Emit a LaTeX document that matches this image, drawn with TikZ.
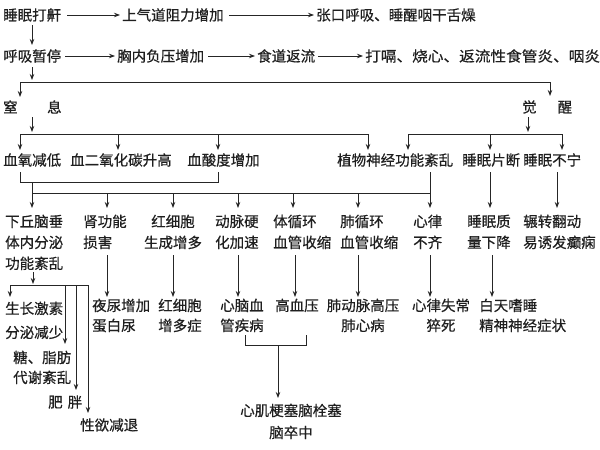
\documentclass[tikz,border=0pt]{standalone}
\usepackage{fontspec}
\newfontfamily\cjk[FakeBold=0.5]{Noto Sans CJK SC}
\usetikzlibrary{arrows.meta,calc}
\begin{document}
\begin{tikzpicture}[x=1pt,y=-1pt,
  t/.style={inner sep=0pt,font=\cjk\fontsize{14.5}{21}\selectfont,text=black!88},
  tw/.style={t,anchor=west},
  tl/.style={t,align=left,anchor=north west},
  tc/.style={t,align=center,anchor=north},
  ln/.style={line width=0.9pt,draw=black!85},
  ar/.style={ln,-{Stealth[length=6pt,width=4.5pt]}}]
\useasboundingbox (0,0) rectangle (600,450);
% ---------- row 1 / row 2
\node[tw] (n11) at (3,15) {睡眠打鼾};
\node[tw] (n12) at (122,15) {上气道阻力增加};
\node[tw] (n13) at (316,15) {张口呼吸、睡醒咽干舌燥};
\node[tw] (n21) at (3,56) {呼吸暂停};
\node[tw] (n22) at (117,56) {胸内负压增加};
\node[tw] (n23) at (257,56) {食道返流};
\node[tw] (n24) at (365,56) {\scalebox{1.08}[1]{打嗝、烧心、返流性食管炎、咽炎}};
\node[tw] (nz) at (3,107) {窒\hspace{29.5pt}息};
\node[tw] (nj) at (522,107) {觉\hspace{21pt}醒};
% ---------- row 3
\node[tw] (n31) at (3,160) {血氧减低};
\node[tw] (n32) at (70,160) {血二氧化碳升高};
\node[tw] (n33) at (187,160) {血酸度增加};
\node[tw] (n34) at (337,160) {植物神经功能紊乱};
\node[tw] (n35) at (462,160) {睡眠片断};
\node[tw] (n36) at (523,160) {睡眠不宁};
% ---------- row 4
\node[tl] (n41) at (5,214.5) {下丘脑垂\\体内分泌\\功能紊乱};
\node[tl] (n42) at (83,214.5) {肾功能\\损害};
\node[tc] (n43) at (173,214.5) {红细胞\\生成增多};
\node[tl] (n44) at (215,214.5) {动脉硬\\化加速};
\node[tl] (n45) at (273,214.5) {体循环\\血管收缩};
\node[tl] (n46) at (340,214.5) {肺循环\\血管收缩};
\node[tl] (n47) at (413,214.5) {心律\\不齐};
\node[tl] (n48) at (467,214.5) {睡眠质\\量下降};
\node[tl] (n49) at (523,214.5) {辗转翻动\\易诱发癫痫};
% ---------- row 5
\node[tl,font=\cjk\fontsize{14.5}{20}\selectfont] (n51) at (92,298.5) {夜尿增加\\蛋白尿};
\node[tc,font=\cjk\fontsize{14.5}{20}\selectfont] (n52) at (180,298.5) {红细胞\\增多症};
\node[tl,font=\cjk\fontsize{14.5}{20}\selectfont] (n53) at (220,298.5) {心脑血\\管疾病};
\node[tl] (n54) at (275,298.5) {高血压};
\node[tc,font=\cjk\fontsize{14.5}{20}\selectfont] (n55) at (363,298.5) {肺动脉高压\\肺心病};
\node[tc,font=\cjk\fontsize{14.5}{20}\selectfont] (n56) at (441,298.5) {心律失常\\猝死};
\node[tl,font=\cjk\fontsize{14.5}{20}\selectfont] (n57) at (479,298.5) {白天嗜睡\\精神神经症状};
\node[tc,font=\cjk\fontsize{14.5}{22}\selectfont] (n61) at (291,403.5) {心肌梗塞脑栓塞\\脑卒中};
% ---------- left tree
\node[tl,font=\cjk\fontsize{14.5}{24}\selectfont] (n71) at (5,301.5) {生长激素\\分泌减少};
\node[tl,font=\cjk\fontsize{14.5}{20}\selectfont] (n72) at (13,350.5) {糖、脂肪\\代谢紊乱};
\node[tw] (n73) at (48,402) {肥\hspace{5pt}胖};
\node[tw] (n74) at (80,425) {性欲减退};
% ---------- horizontal arrows
\draw[ar] ($(n11.east)+(6,0)$) -- ($(n12.west)+(-2,0)$);
\draw[ar] ($(n12.east)+(5,0)$) -- ($(n13.west)+(-2,0)$);
\draw[ar] ($(n21.east)+(4,0)$) -- ($(n22.west)+(-2,0)$);
\draw[ar] ($(n22.east)+(4,0)$) -- ($(n23.west)+(-2,0)$);
\draw[ar] ($(n23.east)+(3,0)$) -- ($(n24.west)+(-2,0)$);
% ---------- top verticals and bar 1
\coordinate (a1) at (32,25); \coordinate (a2) at (32,45);
\coordinate (a3) at (32,67); \coordinate (a4) at (32,80);
\coordinate (b1L) at (20,82); \coordinate (b1R) at (550,82);
\coordinate (b1Ld) at (20,97); \coordinate (b1Rd) at (550,96);
\draw[ar] (a1) -- (a2);
\draw[ar] (a3) -- (a4);
\draw[ln] (b1L) -- (b1R);
\draw[ar] (b1L) -- (b1Ld);
\draw[ar] (b1R) -- (b1Rd);
% ---------- bar 2 (窒息) and bar 2r (觉醒)
\coordinate (z1) at (32,117); \coordinate (z2) at (32,132);
\coordinate (b2L) at (20,134); \coordinate (b2R) at (368,134);
\draw[ar] (z1) -- (z2);
\draw[ln] (b2L) -- (b2R);
\foreach \n/\x in {1/20,2/118,3/218,4/368}{
  \coordinate (zu\n) at (\x,134); \coordinate (zd\n) at (\x,150);
  \draw[ar] (zu\n) -- (zd\n);}
\coordinate (j1) at (528,117); \coordinate (j2) at (528,132);
\coordinate (b2rL) at (408,134); \coordinate (b2rR) at (562,134);
\draw[ar] (j1) -- (j2);
\draw[ln] (b2rL) -- (b2rR);
\foreach \n/\x in {1/408,2/490,3/562}{
  \coordinate (ju\n) at (\x,134); \coordinate (jd\n) at (\x,150);
  \draw[ar] (ju\n) -- (jd\n);}
% ---------- bracket under row 3 and bar 3
\coordinate (k1) at (20,172); \coordinate (k2) at (20,182);
\coordinate (k3) at (218,182); \coordinate (k4) at (218,172);
\draw[ln] (k1) -- (k2) -- (k3) -- (k4);
\coordinate (k5) at (32,182); \coordinate (k6) at (32,208);
\draw[ar] (k5) -- (k6);
\coordinate (b3L) at (32,193); \coordinate (b3R) at (430,193);
\draw[ln] (b3L) -- (b3R);
\coordinate (k7) at (430,172); \coordinate (k8) at (430,208);
\draw[ar] (k7) -- (k8);
\foreach \n/\x in {2/107,3/173,4/238,5/293,6/358}{
  \coordinate (cu\n) at (\x,193); \coordinate (cd\n) at (\x,208);
  \draw[ar] (cu\n) -- (cd\n);}
\foreach \n/\x in {8/490,9/557}{
  \coordinate (cu\n) at (\x,172); \coordinate (cd\n) at (\x,208);
  \draw[ar] (cu\n) -- (cd\n);}
% ---------- row 4 -> row 5
\foreach \n/\x in {2/107,3/173,4/238,5/295,6/358,7/430,8/492}{
  \coordinate (du\n) at (\x,255); \coordinate (dd\n) at (\x,297);
  \draw[ar] (du\n) -- (dd\n);}
% ---------- bracket row 5 -> row 6
\coordinate (m1) at (245,335); \coordinate (m2) at (245,345);
\coordinate (m3) at (306,345); \coordinate (m4) at (306,335);
\draw[ln] (m1) -- (m2) -- (m3) -- (m4);
\coordinate (m5) at (278,345); \coordinate (m6) at (278,398);
\draw[ar] (m5) -- (m6);
% ---------- left tree
\coordinate (h1) at (33,272); \coordinate (h2) at (33,284);
\draw[ar] (h1) -- (h2);
\coordinate (hL) at (10,285); \coordinate (hR) at (88,285);
\draw[ln] (hL) -- (hR);
\foreach \n/\x/\y in {1/10/297,2/65/344,3/76/390,4/88/413}{
  \coordinate (hu\n) at (\x,285); \coordinate (hd\n) at (\x,\y);
  \draw[ar] (hu\n) -- (hd\n);}
\end{tikzpicture}
\end{document}
